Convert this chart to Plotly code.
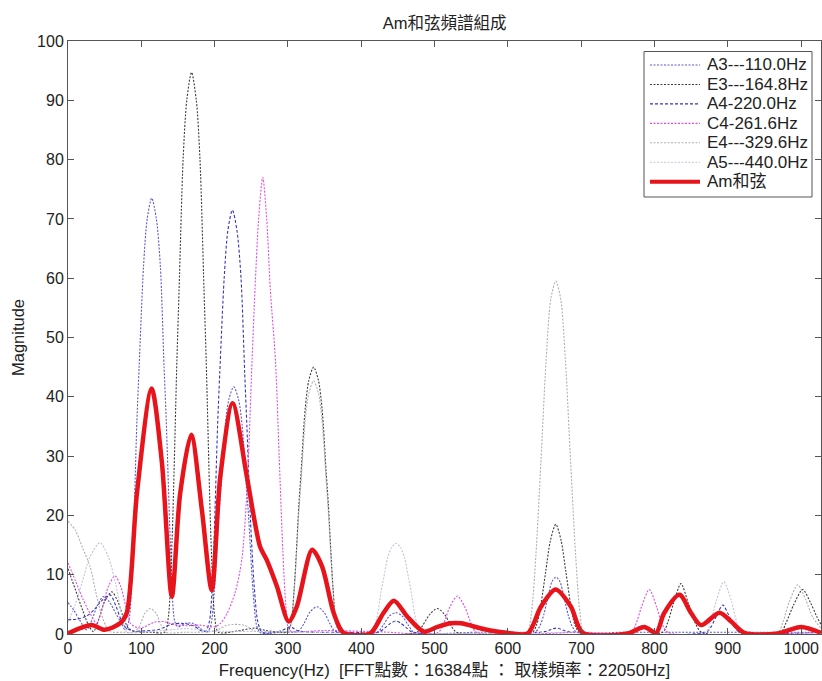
import plotly.graph_objects as go

# ---------------- data ----------------
a3_f = [0, 8, 16, 25.5, 33, 40, 48, 56, 65, 73, 78, 83, 88, 94, 97, 103, 108, 114.2, 120.5, 126, 131, 134, 140.5, 145.5,
        150, 160, 170, 180, 189.5, 194.5, 199.5, 206, 209, 214.5, 219.5, 226, 232.5, 237.5, 243, 246, 252.5, 257.5, 262.5,
        290, 314, 322, 330, 339.6, 349, 357, 364, 400, 422, 430, 438, 447, 456, 464, 472, 560, 620, 637, 643, 649, 655, 660,
        665.5, 671, 676, 682, 688, 694, 760, 860, 960, 1027]
a3_m = [5.3, 4.0, 2.3, 0.7, 2.5, 4.8, 6.3, 5.5, 3.5, 1.8, 0.7, 2.2, 12.5, 36, 45, 62, 70, 73.5, 70, 62, 45, 36, 12.5, 2.2,
        1.2, 1.8, 1.8, 1.0, 0.3, 1.3, 7, 20.4, 25.4, 35.2, 39.6, 41.7, 39.6, 35.2, 25.4, 20.4, 7, 1.3, 0.2,
        0.3, 0.5, 1.8, 3.7, 4.6, 3.7, 1.8, 0.5, 0.3, 0.3, 1.5, 3.0, 3.6, 3.0, 1.5, 0.3, 0.3, 0.3, 0.3, 1.2, 3.3, 6.5, 8.8,
        9.6, 8.8, 6.5, 3.3, 1.2, 0.3, 0.3, 0.3, 0.3, 0.3]

e3_f = [0, 10, 20, 28, 34.6, 42, 50, 59.7, 68, 75, 82.4, 92, 115, 132, 137, 142, 148.5, 151.5, 157, 162, 168.5, 175, 180,
        185.5, 188.5, 195, 200, 205, 230, 255, 270, 290, 298.5, 303.5, 308.5, 315, 318, 323.5, 328.5, 335, 341.5, 346.5,
        352, 355, 361.5, 366.5, 372, 476, 484, 494, 503.7, 513, 522, 530, 633, 639, 645, 651.5, 658, 665.3, 672.5, 679,
        685.5, 691.5, 698, 811, 818, 826, 836, 846, 855, 864, 972, 979, 990, 1002, 1013, 1021, 1027]
e3_m = [11, 7.5, 4, 1.5, 0.4, 2.5, 5.5, 7.1, 5.5, 3, 1, 0.4, 0.3, 0.3, 3, 16, 46, 58, 80, 90, 94.7, 90, 80,
        58, 46, 16, 3, 0.3, 0.5, 1.0, 0.6, 0.3, 0.3, 1.4, 7.7, 22, 27.5, 38, 42.8, 45, 42.8, 38,
        27.5, 22, 7.7, 1.4, 0.3, 0.3, 1.5, 3.4, 4.3, 3.4, 1.5, 0.3, 0.3, 1.5, 5, 10.5, 15.8, 18.5, 15.8, 10.5,
        5, 1.5, 0.3, 0.3, 2, 5.2, 8.5, 5.2, 2, 0.3, 0.3, 1.8, 5, 7.5, 5.2, 3, 1.6]

a4_f = [0, 12, 25, 35, 45, 57.4, 66, 72, 78, 88, 100, 125, 140, 155, 171, 183, 188, 193, 198, 204, 207, 213, 218, 224.2,
        230.5, 236, 241, 244, 249, 254, 259, 265, 290, 303, 315, 380, 424, 432, 440, 447, 454, 462, 470, 650, 666, 682,
        870, 877, 885, 893, 901, 909, 916, 1027]
a4_m = [2.4, 2.5, 3, 4, 5.5, 6.6, 4.5, 2.5, 1.2, 0.5, 0.5, 0.8, 1.6, 1.8, 1.4, 0.5, 0.5, 2.2, 12, 35, 44, 60, 68, 71.5,
        68, 60, 44, 35, 19, 8, 2, 0.3, 0.5, 1.2, 0.5, 0.3, 0.3, 1.0, 1.8, 2.2, 1.8, 1.0, 0.3, 0.4, 1.0, 0.4,
        0.3, 1.2, 3.2, 4.9, 3.2, 1.2, 0.3, 0.3]

c4_f = [0, 10, 20, 30, 39, 47, 55, 64, 72, 79, 85, 92, 100, 118, 130, 144, 160, 180, 200, 208, 217, 228, 237, 244, 251,
        255, 260, 265.6, 271, 276, 283, 288, 293, 297, 301, 306, 350, 420, 505, 513, 521, 531, 541, 549, 557, 700, 768,
        775, 782, 792.8, 803, 810, 818, 1027]
c4_m = [12, 9, 6, 3.5, 1.8, 4.5, 8, 9.8, 8, 4.5, 1.8, 1.2, 1.0, 2.0, 2.1, 1.6, 1.4, 1.5, 1.2, 1.8, 3.5, 7, 12.5, 24, 46,
        58, 70, 77, 70, 58, 46, 30, 14, 5, 0.8, 0.4, 0.6, 0.4, 0.3, 2, 4.6, 6.4, 4.6, 2, 0.3, 0.3, 0.3,
        1.8, 4.5, 7.5, 4.5, 1.8, 0.3, 0.3]

e4_f = [0, 10, 20, 30, 38, 44, 51, 57, 75, 90, 98, 105, 112, 120, 127, 133, 160, 200, 217, 240, 255, 280, 298.5, 303.5,
        308.5, 315, 318, 323.5, 328.5, 335, 341.5, 346.5, 352, 355, 361.5, 366.5, 372, 600, 626, 632, 638, 645, 652,
        658.5, 665.3, 672, 678.5, 685.5, 692.5, 698.5, 705, 968, 975, 984, 995.4, 1006, 1016, 1027]
e4_m = [19, 17.5, 14.5, 11.4, 7, 4, 1.5, 0.4, 0.3, 0.3, 1.5, 3.5, 4.3, 3.5, 1.5, 0.3, 0.3, 0.5, 1.5, 1.5, 0.5, 0.3, 0.3, 1.3,
        7.3, 20.8, 26, 36, 40.6, 42.7, 40.6, 36, 26, 20.8, 7.3, 1.3, 0.3, 0.3, 0.3, 3.5, 13, 29, 46,
        56.5, 59.5, 56.5, 46, 29, 13, 3.5, 0.3, 0.3, 2, 5.5, 8.3, 5.8, 2.8, 1]

a5_f = [0, 10, 20, 30, 43.7, 55, 65, 73, 80, 100, 130, 160, 200, 300, 411, 416, 421, 427.5, 430.5, 436, 441, 447.6, 454,
        459, 464.5, 467.5, 474, 479, 484, 700, 870, 876, 884, 894.4, 905, 912, 918, 1027]
a5_m = [2, 5, 9, 13, 15.4, 13, 8.5, 3.5, 0.4, 0.3, 0.6, 0.9, 0.5, 0.4, 0.3, 0.8, 2.6, 7.5, 9.4, 12.9, 14.5, 15.3, 14.5,
        12.9, 9.4, 7.5, 2.6, 0.8, 0.3, 0.3, 0.3, 2, 5.5, 8.8, 5.5, 2, 0.3, 0.3]

am_f = [0, 32, 50, 71, 80, 94, 114, 128, 141.6, 153, 168, 182.6, 196, 207.7, 224.5, 244, 262, 271, 285, 301, 312, 333,
        346.5, 362.5, 376, 412, 430, 444.5, 463, 485.5, 504, 522, 536, 568, 599, 627, 645, 665, 686, 702, 763, 786,
        802, 813, 834, 850, 863.5, 888.5, 904.5, 922.6, 968, 1000, 1027]
am_m = [0.1, 1.5, 0.7, 1.8, 3.5, 23.7, 41.4, 29, 6.3, 23.7, 33.6, 20.9, 7.4, 26.5, 38.9, 26.5, 14.7, 12.5, 8, 2.1, 4.6,
        14.2, 11.4, 3.5, 0.2, 0.1, 3.5, 5.6, 2.9, 0.4, 1.2, 1.8, 1.8, 0.8, 0.2, 0.1, 4.6, 7.5, 4.6, 0.2, 0.1, 1.2,
        0.2, 3.5, 6.6, 3.5, 1.5, 3.6, 2.1, 0.2, 0.1, 1.2, 0.2]

x_ticks = [0, 100, 200, 300, 400, 500, 600, 700, 800, 900, 1000]
y_ticks = [0, 10, 20, 30, 40, 50, 60, 70, 80, 90, 100]

series = [
    ("A3---110.0Hz", a3_f, a3_m, "#5858d4", "2px,1.5px", 1.1),
    ("E3---164.8Hz", e3_f, e3_m, "#3c3c3c", "2px,1.5px", 1.1),
    ("A4-220.0Hz", a4_f, a4_m, "#3434bc", "3px,2px", 1.1),
    ("C4-261.6Hz", c4_f, c4_m, "#e04ee0", "2px,1.5px", 1.1),
    ("E4---329.6Hz", e4_f, e4_m, "#b0b0b0", "2px,1.5px", 1.1),
    ("A5---440.0Hz", a5_f, a5_m, "#c2c2e2", "2px,1.5px", 1.1),
]
chord_name = "Am和弦"
chord_color = "#e8141c"

FONT = "Liberation Sans, Arial, Noto Sans CJK TC, sans-serif"
CJK = "Liberation Sans, Noto Sans CJK TC, sans-serif"

# plot area in pixels
L, R, T, B = 68, 821, 41, 634
W, H = 822, 681
def px(x):
    return (x - L) / (R - L)
def py(y):
    return (B - y) / (B - T)

fig = go.Figure()
for name, fx, my, col, dash, w in series:
    fig.add_trace(go.Scatter(x=fx, y=my, mode="lines", name=name, showlegend=False,
                             line=dict(color=col, dash=dash, width=w, shape="spline", smoothing=0.8)))
fig.add_trace(go.Scatter(x=am_f, y=am_m, mode="lines", name=chord_name, showlegend=False,
                         line=dict(color=chord_color, width=4.5, shape="spline", smoothing=0.8)))

# ---- legend drawn as box + samples + labels ----
shapes = [dict(type="rect", xref="paper", yref="paper", x0=px(644), x1=px(812), y0=py(197), y1=py(51.5),
               line=dict(color="#555555", width=1), fillcolor="white", layer="above")]
annotations = []
entries = [(n, c, d, w) for n, _, _, c, d, w in series] + [(chord_name, chord_color, "solid", 4)]
for i, (n, c, d, w) in enumerate(entries):
    yc = 65 + 19.45 * i
    shapes.append(dict(type="line", xref="paper", yref="paper", x0=px(650), x1=px(700), y0=py(yc), y1=py(yc),
                       line=dict(color=c, dash=d, width=w), layer="above"))
    annotations.append(dict(xref="paper", yref="paper", x=px(705), y=py(yc), text=n, showarrow=False,
                            xanchor="left", yanchor="middle", font=dict(family=FONT, size=17, color="#222222")))

fig.update_layout(
    width=W, height=H,
    margin=dict(l=L, r=W - R, t=T, b=H - B),
    paper_bgcolor="white", plot_bgcolor="white",
    font=dict(family=FONT, size=16, color="#222222"),
    title=dict(text="Am和弦頻譜組成", x=(444.5 / W), xanchor="center", y=1 - 23 / H, yanchor="middle",
               font=dict(family=CJK, size=16.5, color="#222222")),
    showlegend=False,
    shapes=shapes,
    annotations=annotations,
)
fig.update_xaxes(range=[0, 1027], tickvals=x_ticks, ticktext=[str(v) for v in x_ticks],
                 showgrid=False, zeroline=False, showline=True, linecolor="#555555", linewidth=1,
                 mirror="ticks", ticks="inside", ticklen=6, tickcolor="#555555",
                 tickfont=dict(size=16),
                 title=dict(text="Frequency(Hz)  [FFT點數：16384點 ： 取樣頻率：22050Hz]", standoff=8,
                            font=dict(family=FONT, size=16.8)))
fig.update_yaxes(range=[0, 100], tickvals=y_ticks, ticktext=[str(v) for v in y_ticks],
                 showgrid=False, zeroline=False, showline=True, linecolor="#555555", linewidth=1,
                 mirror="ticks", ticks="inside", ticklen=6, tickcolor="#555555",
                 tickfont=dict(size=16),
                 title=dict(text="Magnitude", standoff=8, font=dict(family=FONT, size=16.5)))

fig.write_html("out.html")
